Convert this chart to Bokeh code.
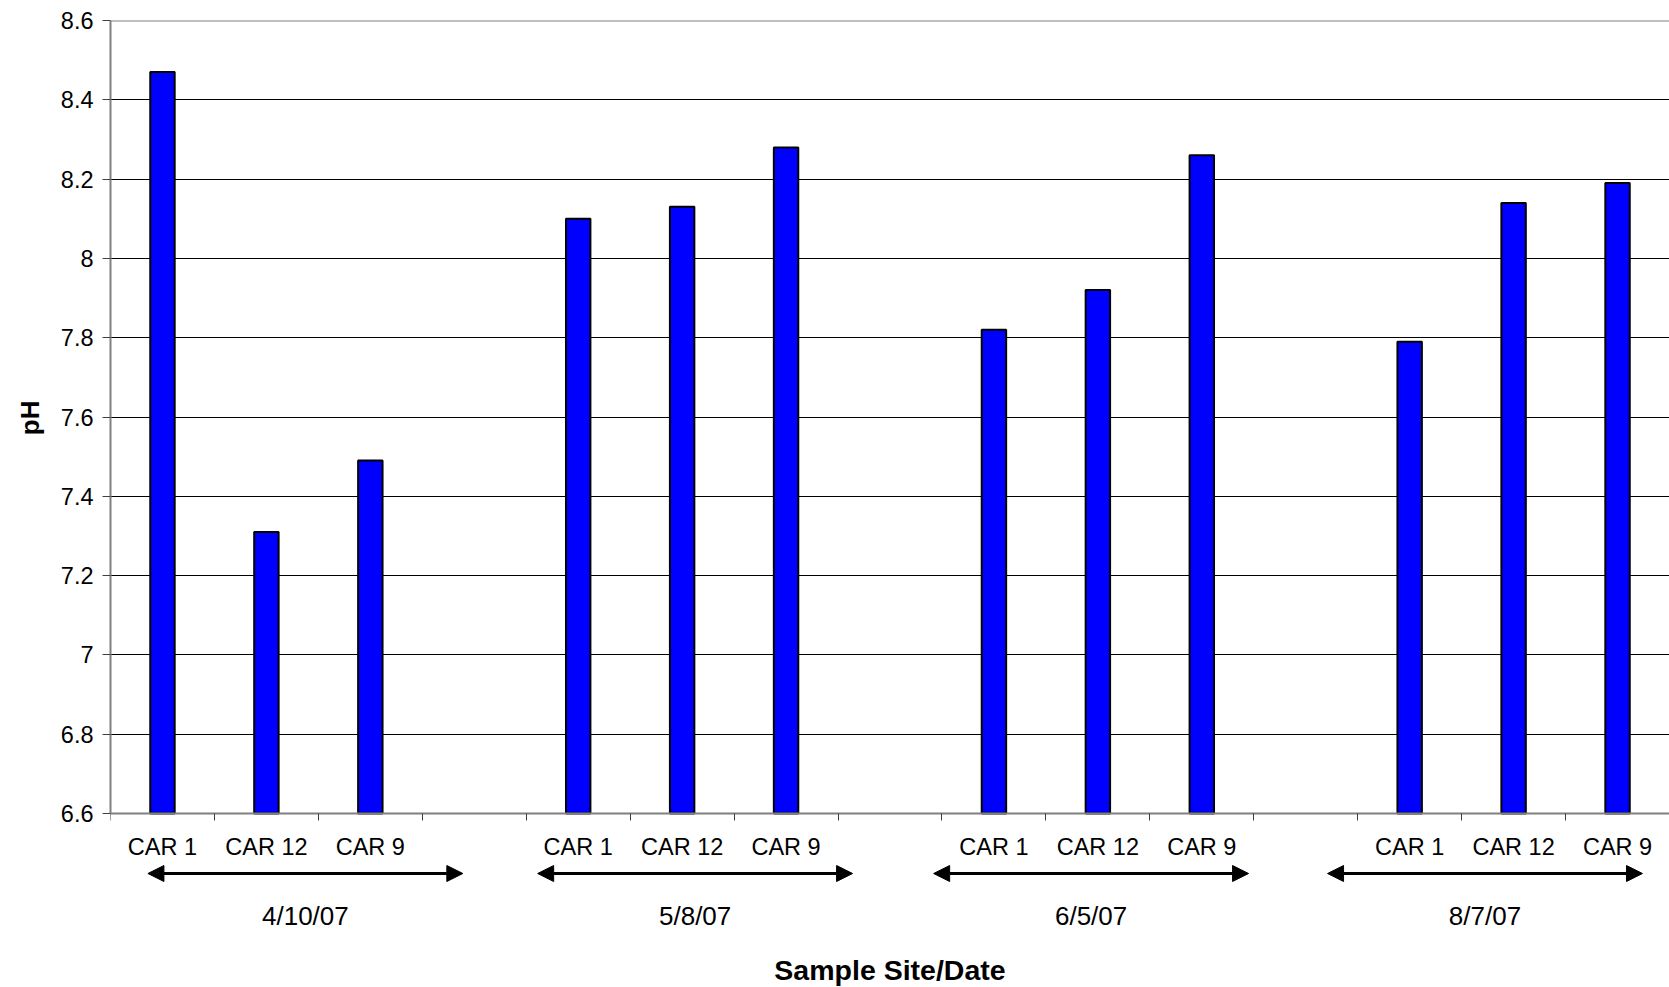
from bokeh.plotting import figure
from bokeh.models import FixedTicker, Range1d, Arrow, NormalHead, Label, Span, Title
from bokeh.embed import file_html
from bokeh.resources import INLINE

# sampling dates and sites, pH
dates = ["4/10/07", "5/8/07", "6/5/07", "8/7/07"]
sites = ["CAR 1", "CAR 12", "CAR 9"]
ph_4_10_07 = [8.47, 7.31, 7.49]
ph_5_8_07 = [8.10, 8.13, 8.28]
ph_6_5_07 = [7.82, 7.92, 8.26]
ph_8_7_07 = [7.79, 8.14, 8.19]
ph_by_date = [ph_4_10_07, ph_5_8_07, ph_6_5_07, ph_8_7_07]

ph_ticks = [6.6, 6.8, 7.0, 7.2, 7.4, 7.6, 7.8, 8.0, 8.2, 8.4, 8.6]
ph_tick_labels = ["6.6", "6.8", "7", "7.2", "7.4", "7.6", "7.8", "8", "8.2", "8.4", "8.6"]

FONT = "Liberation Sans"
slots_per_group = len(sites) + 1          # one empty slot between dates
n_slots = slots_per_group * len(dates) - 1
y_min, y_max = ph_ticks[0], ph_ticks[-1]
# the frame runs down to the page bottom so that the arrows and dates
# beneath the axis are not clipped; the axis itself sits at y_min
y_floor = y_min - 0.4388

# bar positions (slot centres)
xs, tops, site_labels = [], [], {}
for g, vals in enumerate(ph_by_date):
    for s, v in enumerate(vals):
        x = g * slots_per_group + s + 0.5
        xs.append(x)
        tops.append(v)
        site_labels[x] = sites[s]

p = figure(width=1669, height=987, output_backend="svg", toolbar_location=None,
           x_range=Range1d(0, n_slots), y_range=Range1d(y_floor, y_max),
           min_border_left=109, min_border_right=0, min_border_top=20,
           min_border_bottom=0)
p.background_fill_color = "white"
p.border_fill_color = "white"
p.outline_line_color = None

p.vbar(x=xs, width=0.235, bottom=y_min, top=tops,
       fill_color="#0000FF", line_color="black", line_width=2)

# y axis
p.yaxis.ticker = FixedTicker(ticks=ph_ticks)
p.yaxis.bounds = (y_min, y_max)
p.yaxis.major_label_overrides = dict(zip(ph_ticks, ph_tick_labels))
p.yaxis.minor_tick_line_color = None
p.yaxis.major_tick_in = 0
p.yaxis.major_tick_out = 8
p.yaxis.major_tick_line_color = "#404040"
p.yaxis.major_label_standoff = 9
p.ygrid.ticker = FixedTicker(ticks=ph_ticks)
p.ygrid.grid_line_color = "black"
p.ygrid.grid_line_width = 1
p.add_layout(Span(location=y_max, dimension="width", line_color="#808080", line_width=2))

# axis title for pH, centred on the 6.6-8.6 part of the axis
p.add_layout(Title(text="pH", align="right", offset=380, standoff=25,
                   text_font=FONT, text_font_size="26px",
                   text_font_style="bold", text_color="black"), "left")

# x axis: labels at slot centres, tick marks at slot edges
p.xaxis.fixed_location = y_min
p.xaxis.ticker = FixedTicker(ticks=xs, minor_ticks=list(range(n_slots + 1)))
p.xaxis.major_label_overrides = site_labels
p.xaxis.major_tick_line_color = None
p.xaxis.major_tick_in = 0
p.xaxis.major_tick_out = 0
p.xaxis.minor_tick_in = 0
p.xaxis.minor_tick_out = 7
p.xaxis.minor_tick_line_color = "#404040"
p.xaxis.major_label_standoff = 13
p.xaxis.axis_label = "Sample Site/Date"
p.xaxis.axis_label_standoff = 91
p.xgrid.grid_line_color = None

for ax in (p.xaxis, p.yaxis):
    ax.axis_line_color = "#808080"
    ax.axis_line_width = 2
    ax.major_label_text_font = FONT
    ax.major_label_text_font_size = "23.5px"
    ax.major_label_text_color = "black"
    ax.axis_label_text_font = FONT
    ax.axis_label_text_font_style = "bold"
    ax.axis_label_text_color = "black"
p.xaxis.axis_label_text_font_size = "28.5px"

# double arrows with the date under each group of sites
arrow_shift = [0.36, 0.11, -0.08, -0.29]
arrow_len = 3.03
arrow_y = y_min - 0.1513
date_y = y_min - 0.2573
for g, d in enumerate(dates):
    x0 = g * slots_per_group + arrow_shift[g]
    x1 = x0 + arrow_len
    p.add_layout(Arrow(x_start=x0, y_start=arrow_y, x_end=x1, y_end=arrow_y,
                       line_color="black", line_width=3,
                       start=NormalHead(size=16, fill_color="black", line_color="black"),
                       end=NormalHead(size=16, fill_color="black", line_color="black")))
    p.add_layout(Label(x=(x0 + x1) / 2, y=date_y, text=d, text_align="center",
                       text_baseline="middle", text_font=FONT,
                       text_font_size="26px", text_color="black"))

open("out.html", "w").write(file_html(p, INLINE))
